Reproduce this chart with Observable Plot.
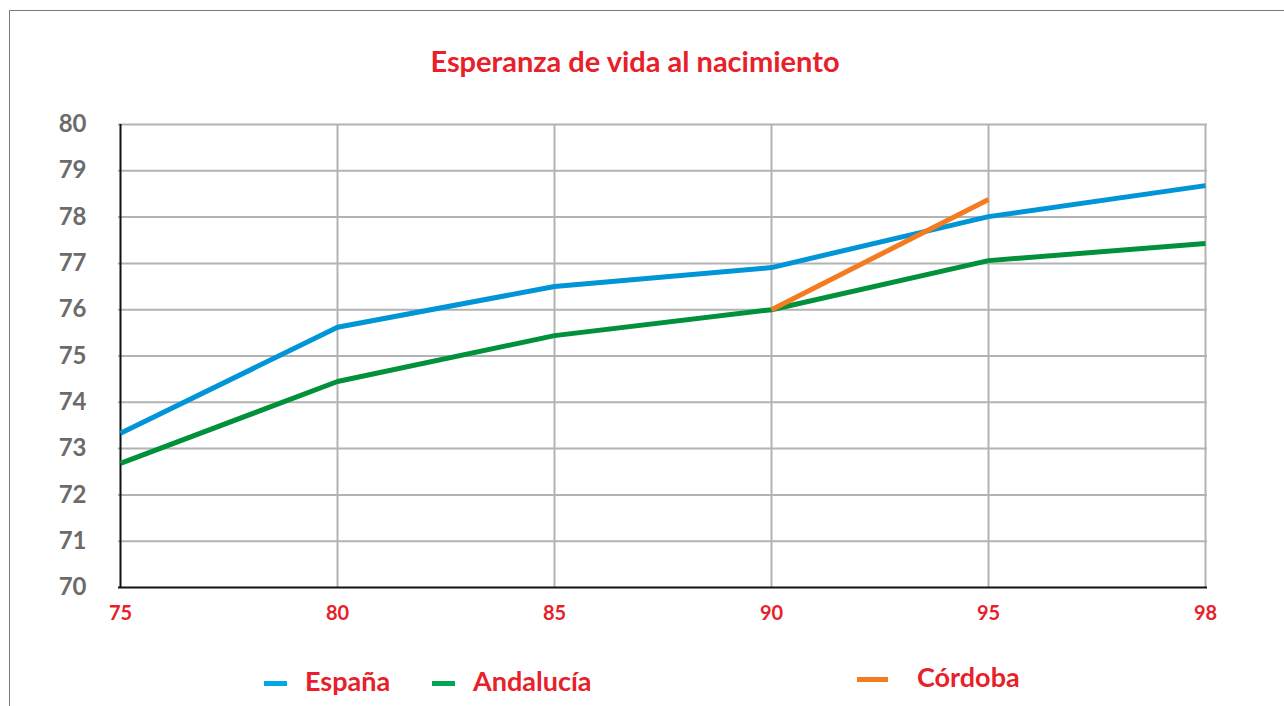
<!DOCTYPE html>
<html>
<head>
<meta charset="utf-8">
<script src="https://cdn.jsdelivr.net/npm/d3@7"></script>
<script src="https://cdn.jsdelivr.net/npm/@observablehq/plot@0.6"></script>
<style>
  html, body { margin: 0; padding: 0; background: #fff; }
  #wrap { position: relative; width: 1284px; height: 706px; overflow: hidden; font-family: Lato, "Open Sans", sans-serif; }
  #frame { position: absolute; left: 9px; top: 10px; width: 1290px; height: 710px; border-left: 1.5px solid #7a7a7a; border-top: 1.5px solid #7a7a7a; }
  #title { position: absolute; left: 0; width: 1270px; top: 43px; text-align: center; color: #e8202a; font-weight: 700; font-size: 29px; }
  .leg { position: absolute; color: #e8202a; font-weight: 700; font-size: 27px; line-height: 1; }
  .sw { position: absolute; height: 5px; }
  #chart { position: absolute; left: 0; top: 0; }
</style>
</head>
<body>
<div id="wrap">
  <div id="chart"></div>
  <div id="frame"></div>
  <div id="title">Esperanza de vida al nacimiento</div>
  <div id="legend"></div>
</div>
<script>
const years = ["75", "80", "85", "90", "95", "98"];
const espana = [73.33, 75.62, 76.5, 76.91, 78.01, 78.68];
const andalucia = [72.68, 74.45, 75.44, 76.0, 77.06, 77.43];
const cordobaYears = ["90", "95"];
const cordoba = [76.0, 78.38];
const yTicks = [70, 71, 72, 73, 74, 75, 76, 77, 78, 79, 80];
const seriesNames = ["España", "Andalucía", "Córdoba"];
const seriesColors = ["#0095d6", "#00913a", "#f47b20"];

const rows = [];
years.forEach((y, i) => rows.push({year: y, value: espana[i], serie: seriesNames[0]}));
years.forEach((y, i) => rows.push({year: y, value: andalucia[i], serie: seriesNames[1]}));
cordobaYears.forEach((y, i) => rows.push({year: y, value: cordoba[i], serie: seriesNames[2]}));

const plot = Plot.plot({
  width: 1284,
  height: 706,
  marginLeft: 118,
  marginRight: 77,
  marginTop: 124,
  marginBottom: 119,
  style: {fontFamily: "Lato, 'Open Sans', sans-serif", background: "transparent", overflow: "visible"},
  x: {type: "point", domain: years, padding: 0},
  y: {domain: [70, 80]},
  color: {domain: seriesNames, range: seriesColors},
  marks: [
    Plot.ruleY(yTicks.slice(1), {stroke: "#b3b3b3", strokeWidth: 2}),
    Plot.ruleX(years.slice(1), {stroke: "#b3b3b3", strokeWidth: 2}),
    Plot.ruleY([70], {stroke: "#111", strokeWidth: 2}),
    Plot.ruleX([years[0]], {stroke: "#111", strokeWidth: 2}),
    Plot.axisY({ticks: yTicks, tickSize: 0, tickPadding: 0, dx: -32, fontSize: 24, fontWeight: "bold", fill: "#6b6b6b", label: null, textAnchor: "end"}),
    Plot.axisX({tickSize: 0, tickPadding: 18, fontSize: 20, fontWeight: "bold", fill: "#e8202a", label: null}),
    Plot.line(rows, {x: "year", y: "value", z: "serie", stroke: "serie", strokeWidth: 5, strokeLinejoin: "miter", strokeLinecap: "butt"})
  ]
});
document.getElementById("chart").appendChild(plot);

// legend
const legendPos = [
  {sx: 264, sw: 23, sy: 681, tx: 305, ty: 667, c: "#00a9e6"},
  {sx: 432, sw: 23, sy: 681, tx: 473, ty: 667, c: "#00a651"},
  {sx: 857, sw: 31, sy: 677, tx: 917, ty: 663, c: "#f47b20"}
];
const leg = document.getElementById("legend");
seriesNames.forEach((n, i) => {
  const p = legendPos[i];
  const s = document.createElement("div");
  s.className = "sw";
  s.style.left = p.sx + "px"; s.style.top = p.sy + "px"; s.style.width = p.sw + "px"; s.style.background = p.c;
  leg.appendChild(s);
  const t = document.createElement("div");
  t.className = "leg";
  t.style.left = p.tx + "px"; t.style.top = p.ty + "px";
  t.textContent = n;
  leg.appendChild(t);
});
</script>
</body>
</html>
